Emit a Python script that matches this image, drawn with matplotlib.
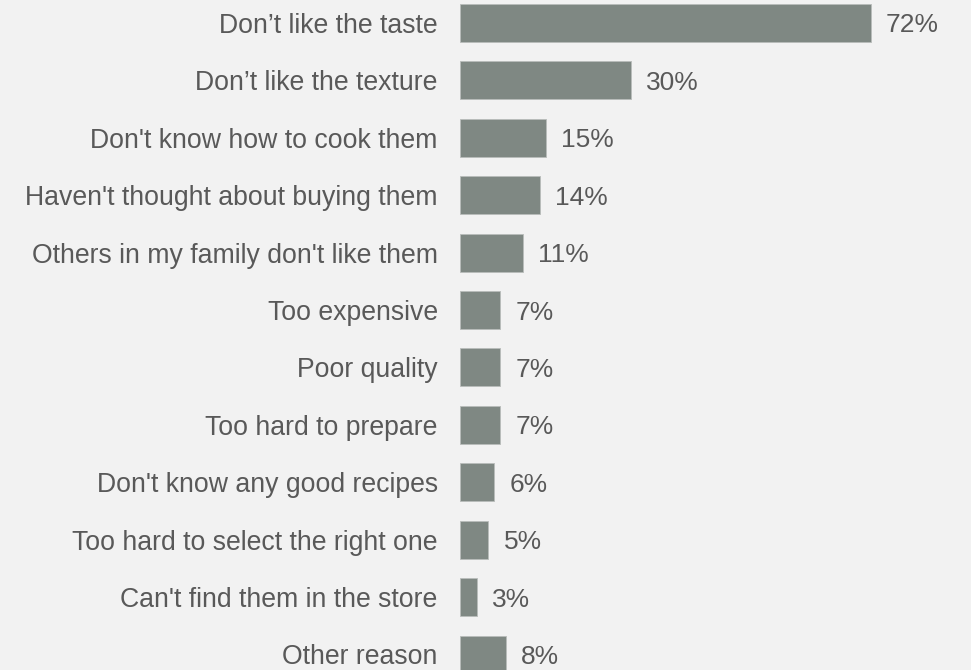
import matplotlib
matplotlib.use("Agg")
import matplotlib.pyplot as plt

reasons = [
    "Don\u2019t like the taste",
    "Don\u2019t like the texture",
    "Don't know how to cook them",
    "Haven't thought about buying them",
    "Others in my family don't like them",
    "Too expensive",
    "Poor quality",
    "Too hard to prepare",
    "Don't know any good recipes",
    "Too hard to select the right one",
    "Can't find them in the store",
    "Other reason",
]
shares = [72, 30, 15, 14, 11, 7, 7, 7, 6, 5, 3, 8]

bg = "#f2f2f2"
bar_color = "#7f8883"
text_color = "#595959"

plt.rcParams["font.family"] = ["Liberation Sans", "DejaVu Sans"]

fig = plt.figure(figsize=(9.71, 6.70), dpi=100, facecolor=bg)
ax = fig.add_axes([0.4737, 0.0, 0.5263, 1.0], facecolor=bg)

pos = list(range(len(reasons)))
ax.barh(pos, shares, height=0.66, color=bar_color, edgecolor="#b8bcba", linewidth=0.6)

ax.set_xlim(0, 89.6)
ax.set_ylim(11.27, -0.40)

for p, v in zip(pos, shares):
    ax.annotate(f"{v}%", xy=(v, p), xytext=(11, 0), textcoords="offset points",
                va="center_baseline", ha="left", fontsize=19, color=text_color)

ax.set_yticks(pos)
ax.set_yticklabels(reasons, fontsize=19.2, color=text_color)
ax.tick_params(axis="y", length=0, pad=16)
ax.set_xticks([])
for s in ax.spines.values():
    s.set_visible(False)

fig.savefig("out.png", dpi=100, facecolor=bg)
